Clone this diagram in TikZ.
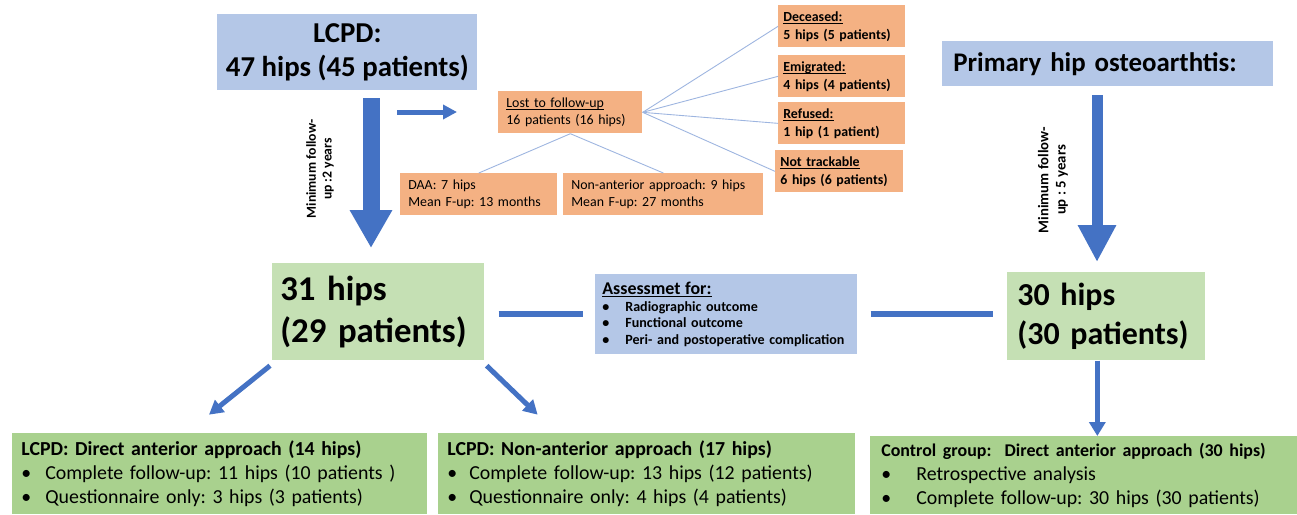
\documentclass[tikz,border=0pt]{standalone}
\usepackage{fontspec}
\setmainfont{Carlito}
\usetikzlibrary{arrows.meta,positioning}

\definecolor{lcpdblue}{HTML}{B4C7E7}
\definecolor{lossorange}{HTML}{F4B183}
\definecolor{hipsgreen}{HTML}{C5E0B4}
\definecolor{groupgreen}{HTML}{A9D18E}
\definecolor{arrowblue}{HTML}{4472C4}
\definecolor{twigblue}{HTML}{9DB5E0}

\newsavebox{\undlbox}
\newcommand{\undl}[1]{\sbox{\undlbox}{#1}\rlap{\rule[-0.16em]{\wd\undlbox}{0.06em}}\usebox{\undlbox}}
\newcommand{\itemdot}[2]{\hspace*{#1}\makebox[#2][l]{\textbullet}}
\frenchspacing

\tikzset{
  box/.style={rectangle, anchor=north west, inner ysep=0pt, align=left},
  twig/.style={twigblue, line width=0.5pt},
  link/.style={arrowblue, line width=0.12cm},
  smallfont/.style={font=\fontsize{7.9}{9.6}\selectfont},
  groupfont/.style={font=\fontsize{11.3}{13.6}\selectfont},
}

\begin{document}
\begin{tikzpicture}[x=0.02cm,y=-0.02cm]
	\useasboundingbox[fill=white] (0,0) rectangle (1297,514);

	% top row
	\node[box, fill=lcpdblue, align=center, inner xsep=0pt, minimum width=5.2cm, minimum height=1.52cm,
		font=\bfseries\fontsize{16.4}{19.3}\selectfont] (lcpd) at (217,14) {LCPD:\\47 hips (45 patients)};
	\node[box, fill=lcpdblue, inner xsep=0.22cm, text width=6.18cm, minimum height=0.9cm,
		font=\bfseries\fontsize{15.3}{18}\selectfont] (primary) at (942,41) {Primary hip osteoarthtis:};

	\begin{scope}[every node/.style={box, fill=lossorange, smallfont, minimum height=0.84cm}]
		\node[inner xsep=0.16cm, text width=2.56cm] (lost) at (498,91) {\undl{Lost to follow-up}\\16 patients (16 hips)};
		\node[inner xsep=0.16cm, text width=2.82cm] (daa) at (400,173) {DAA: 7 hips\\Mean F-up: 13 months};
		\node[inner xsep=0.16cm, text width=3.68cm] (nonant) at (563,173) {Non-anterior approach: 9 hips\\Mean F-up: 27 months};
	\end{scope}

	\begin{scope}[every node/.style={box, fill=lossorange, font=\bfseries\fontsize{7.9}{10.2}\selectfont,
			minimum height=0.84cm, inner xsep=0.1cm, text width=2.34cm}]
		\node (dec) at (778,5) {\undl{Deceased:}\\5 hips (5 patients)};
		\node (emi) at (778,55) {\undl{Emigrated:}\\4 hips (4 patients)};
		\node (ref) at (778,102) {\undl{Refused:}\\1 hip (1 patient)};
		\node[text width=2.36cm] (nottr) at (775,150) {\undl{Not trackable}\\6 hips (6 patients)};
	\end{scope}

	% middle row
	\begin{scope}[every node/.style={box, fill=hipsgreen}]
		\node[inner xsep=0.16cm, text width=3.92cm, minimum height=1.94cm,
			font=\bfseries\fontsize{19.8}{23.8}\selectfont] (hips31) at (272,263) {31 hips\\(29 patients)};
		\node[inner xsep=0.2cm, text width=3.56cm, minimum height=1.76cm,
			font=\bfseries\fontsize{18.2}{22.7}\selectfont] (hips30) at (1007,272) {30 hips\\(30 patients)};
	\end{scope}
	\node[box, fill=lcpdblue, inner xsep=0.14cm, text width=4.96cm, minimum height=1.6cm,
		font=\bfseries\fontsize{8}{9.6}\selectfont] (assess) at (595,274)
		{{\fontsize{10.2}{11.4}\selectfont\undl{Assessmet for:}}\\%
		\itemdot{0cm}{0.46cm}Radiographic outcome\\%
		\itemdot{0cm}{0.46cm}Functional outcome\\%
		\itemdot{0cm}{0.46cm}Peri- and postoperative complication};

	% bottom row
	\begin{scope}[every node/.style={box, fill=groupgreen, groupfont, inner xsep=0.18cm, minimum height=1.62cm}]
		\node[text width=7.94cm] (daagrp) at (12,433)
			{\textbf{LCPD: Direct anterior approach (14 hips)}\\%
			\itemdot{0cm}{0.48cm}Complete follow-up: 11 hips (10 patients )\\%
			\itemdot{0cm}{0.48cm}Questionnaire only: 3 hips (3 patients)};
		\node[text width=7.98cm] (nonantgrp) at (438,433)
			{\textbf{LCPD: Non-anterior approach (17 hips)}\\%
			\itemdot{0cm}{0.44cm}Complete follow-up: 13 hips (12 patients)\\%
			\itemdot{0cm}{0.44cm}Questionnaire only: 4 hips (4 patients)};
		\node[inner xsep=0.22cm, text width=8.1cm, minimum height=1.56cm] (control) at (870,436)
			{{\fontsize{10.2}{12.6}\selectfont\textbf{Control group:\ \ Direct anterior approach (30 hips)}}\\%
			\itemdot{0cm}{0.7cm}Retrospective analysis\\%
			\itemdot{0cm}{0.7cm}Complete follow-up: 30 hips (30 patients)};
	\end{scope}

	% rotated labels
	\begin{scope}[every node/.style={rotate=90, align=center}]
		\node[font=\bfseries\fontsize{7.8}{9}\selectfont] (lcpdfu) at (320,169) {Minimum follow-\\up :2 years};
		\node[font=\bfseries\fontsize{8.4}{9.8}\selectfont] (primfu) at (1053,180) {Minimum follow-\\up : 5 years};
	\end{scope}

	% connectors
	\draw[twig] (lost.south) -- (daa.north);
	\draw[twig] (lost.south) -- (nonant.north);
	\draw[twig] (lost.east) -- (dec.west);
	\draw[twig] (lost.east) -- (emi.west);
	\draw[twig] (lost.east) -- (ref.west);
	\draw[twig] (lost.east) -- (nottr.west);

	\coordinate (lcpdtail) at (371,98);
	\coordinate (lcpdtip) at (371,248);
	\coordinate (primtail) at (1097,95);
	\coordinate (primtip) at (1097,262);
	\draw[arrowblue, line width=0.34cm, -{Triangle[width=0.8cm,length=0.76cm]}] (lcpdtail) -- (lcpdtip);
	\draw[arrowblue, line width=0.22cm, -{Triangle[width=0.72cm,length=0.74cm]}] (primtail) -- (primtip);
	\draw[arrowblue, line width=0.1cm, -{Triangle[width=0.28cm,length=0.28cm]}] (397,112) -- +(60,0);

	\draw[link, shorten <=0.28cm, shorten >=0.24cm] (hips31.east |- assess.west) -- (assess.west);
	\draw[link, shorten <=0.26cm, shorten >=0.28cm] (assess.east) -- (assess.east -| hips30.west);

	\begin{scope}[arrowblue, line width=0.1cm]
		\draw[-{Triangle[width=0.3cm,length=0.28cm]}] ([shift={(-2,5)}]hips31.south west) -- +(-61,49);
		\draw[-{Triangle[width=0.3cm,length=0.28cm]}] ([shift={(2,5)}]hips31.south east) -- +(51,49);
		\draw[-{Triangle[width=0.32cm,length=0.28cm]}] ([xshift=-0.18cm]hips30.south) -- ([xshift=-0.18cm]hips30.south |- control.north);
	\end{scope}

\end{tikzpicture}
\end{document}
